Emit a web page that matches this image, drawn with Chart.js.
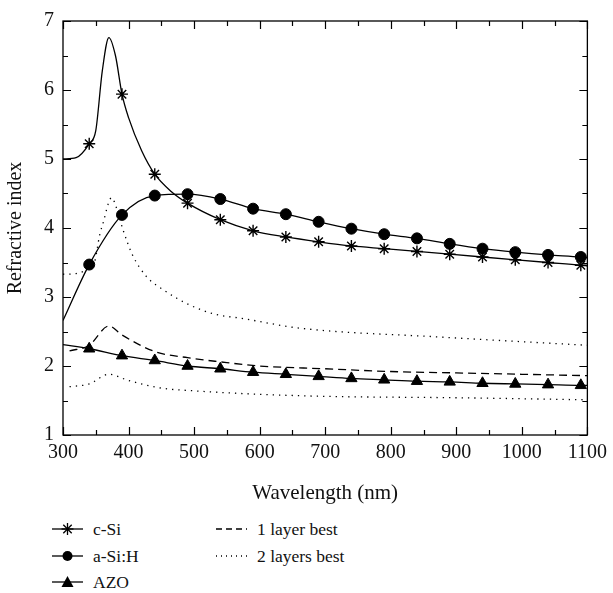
<!DOCTYPE html>
<html>
<head>
<meta charset="utf-8">
<script src="https://cdn.jsdelivr.net/npm/chart.js@4"></script>
<style>
  html, body { margin: 0; padding: 0; background: #fff; }
  #wrap { position: relative; width: 613px; height: 593px; }
  #c { position: absolute; left: 0; top: 0; }
  .leg { position: absolute; font-family: "Liberation Serif", "Times New Roman", serif; font-size: 17.5px; color: #111; display: flex; align-items: center; white-space: nowrap; }
  .leg svg { margin-right: 10px; }
</style>
</head>
<body>
<div id="wrap">
  <canvas id="c" width="613" height="510"></canvas>
  <div id="legend"></div>
</div>
<script>
// ---- Data ----
const xTicks = [300, 400, 500, 600, 700, 800, 900, 1000, 1100];
const yTicks = [1, 2, 3, 4, 5, 6, 7];
const markerWavelengths = [340, 390, 440, 490, 540, 590, 640, 690, 740, 790, 840, 890, 940, 990, 1040, 1090];

const cSiX = [300, 320, 340, 350, 360, 370, 380, 390, 400, 420, 440, 465, 490, 540, 590, 640, 690, 740, 790, 840, 890, 940, 990, 1040, 1090, 1100];
const cSiY = [5.0, 5.02, 5.22, 5.41, 6.28, 6.76, 6.5, 5.94, 5.6, 5.12, 4.78, 4.53, 4.36, 4.12, 3.96, 3.87, 3.8, 3.74, 3.7, 3.66, 3.62, 3.58, 3.54, 3.5, 3.46, 3.45];

const aSiX = [300, 340, 390, 440, 490, 540, 590, 640, 690, 740, 790, 840, 890, 940, 990, 1040, 1090, 1100];
const aSiY = [2.66, 3.47, 4.19, 4.47, 4.49, 4.42, 4.28, 4.2, 4.09, 3.99, 3.91, 3.85, 3.77, 3.7, 3.65, 3.61, 3.58, 3.57];

const azoX = [300, 340, 390, 440, 490, 540, 590, 640, 690, 740, 790, 840, 890, 940, 990, 1040, 1090, 1100];
const azoY = [2.31, 2.25, 2.15, 2.08, 2.0, 1.96, 1.91, 1.88, 1.85, 1.82, 1.8, 1.78, 1.77, 1.75, 1.74, 1.73, 1.72, 1.72];

const oneLayerX = [310, 340, 370, 390, 440, 490, 540, 600, 700, 800, 900, 1000, 1100];
const oneLayerY = [2.22, 2.3, 2.58, 2.45, 2.21, 2.12, 2.06, 2.0, 1.96, 1.92, 1.9, 1.88, 1.86];

const twoLayerUpX = [300, 320, 340, 348, 356, 362, 369, 374, 383, 391, 406, 427, 457, 492, 532, 573, 660, 875, 1100];
const twoLayerUpY = [3.33, 3.34, 3.42, 3.5, 3.9, 4.1, 4.35, 4.44, 4.25, 3.99, 3.61, 3.3, 3.08, 2.89, 2.75, 2.69, 2.55, 2.42, 2.3];

const twoLayerLowX = [310, 340, 370, 400, 450, 500, 600, 700, 900, 1100];
const twoLayerLowY = [1.7, 1.74, 1.88, 1.79, 1.68, 1.64, 1.59, 1.56, 1.54, 1.51];

// ---- helpers ----
const pts = (xs, ys) => xs.map((x, i) => ({ x: x, y: ys[i] }));
const isMarker = (ctx) => {
  const raw = ctx.raw;
  return raw && markerWavelengths.includes(raw.x);
};

function lineDS(label, xs, ys, style, markerRadius, dash) {
  return {
    label: label,
    data: pts(xs, ys),
    borderColor: '#000',
    backgroundColor: '#000',
    borderWidth: 1.3,
    borderDash: dash || [],
    pointStyle: style || false,
    pointRadius: style ? (ctx => isMarker(ctx) ? markerRadius : 0) : 0,
    pointBorderWidth: style === 'star' ? 1.4 : 1,
    pointBorderColor: '#000',
    pointBackgroundColor: '#000',
    pointHoverRadius: 0,
    cubicInterpolationMode: 'monotone',
    fill: false
  };
}

const FONT = '"Liberation Serif", "Times New Roman", serif';

const frameTicks = {
  id: 'frameTicks',
  afterDraw(chart) {
    const { ctx, chartArea: a, scales } = chart;
    const xs = scales.x, ys = scales.y;
    ctx.save();
    ctx.strokeStyle = '#000';
    ctx.lineWidth = 1.3;
    ctx.strokeRect(a.left, a.top, a.right - a.left, a.bottom - a.top);
    ctx.lineWidth = 1.2;
    ctx.beginPath();
    for (let v = xs.min; v <= xs.max + 1e-6; v += 50) {
      const px = Math.round(xs.getPixelForValue(v)) + 0.5;
      const len = (v % 100 === 0) ? 8 : 5;
      ctx.moveTo(px, a.bottom); ctx.lineTo(px, a.bottom - len);
      ctx.moveTo(px, a.top); ctx.lineTo(px, a.top + len);
    }
    for (let v = ys.min; v <= ys.max + 1e-6; v += 0.5) {
      const py = Math.round(ys.getPixelForValue(v)) + 0.5;
      const len = (Math.abs(v - Math.round(v)) < 1e-6) ? 8 : 5;
      ctx.moveTo(a.left, py); ctx.lineTo(a.left + len, py);
      ctx.moveTo(a.right, py); ctx.lineTo(a.right - len, py);
    }
    ctx.stroke();
    ctx.restore();
  }
};

const chart = new Chart(document.getElementById('c'), {
  type: 'line',
  data: {
    datasets: [
      lineDS('c-Si', cSiX, cSiY, 'star', 6),
      lineDS('a-Si:H', aSiX, aSiY, 'circle', 5.5),
      lineDS('AZO', azoX, azoY, 'triangle', 6.5),
      lineDS('1 layer best', oneLayerX, oneLayerY, null, 0, [8, 5]),
      lineDS('2 layers best', twoLayerUpX, twoLayerUpY, null, 0, [1.3, 5]),
      lineDS('2 layers best (low)', twoLayerLowX, twoLayerLowY, null, 0, [1.3, 5])
    ]
  },
  options: {
    responsive: false,
    animation: false,
    layout: { padding: { top: 17, right: 21, left: 0, bottom: 0 } },
    plugins: { legend: { display: false }, tooltip: { enabled: false } },
    scales: {
      x: {
        type: 'linear',
        min: 300, max: 1100,
        afterBuildTicks: s => { s.ticks = xTicks.map(v => ({ value: v })); },
        grid: { display: false, drawTicks: false },
        border: { display: false },
        ticks: { color: '#111', font: { family: FONT, size: 20 }, padding: 6, maxRotation: 0, callback: v => String(v) },
        title: { display: true, text: 'Wavelength (nm)', color: '#111', font: { family: FONT, size: 21 }, padding: { top: 5 } },
        afterFit: s => { s.height = 75; }
      },
      y: {
        type: 'linear',
        min: 1, max: 7,
        afterBuildTicks: s => { s.ticks = yTicks.map(v => ({ value: v })); },
        grid: { display: false, drawTicks: false },
        border: { display: false },
        ticks: { color: '#111', font: { family: FONT, size: 20 }, padding: 9, callback: v => String(v) },
        title: { display: true, text: 'Refractive index', color: '#111', font: { family: FONT, size: 20 }, padding: { bottom: 2 } },
        afterFit: s => { s.width = 63; }
      }
    }
  },
  plugins: [frameTicks]
});

// ---- HTML legend ----
const legendItems = [
  { label: 'c-Si', marker: 'star', dash: null, left: 52, top: 529 },
  { label: 'a-Si:H', marker: 'circle', dash: null, left: 52, top: 556 },
  { label: 'AZO', marker: 'triangle', dash: null, left: 52, top: 582 },
  { label: '1 layer best', marker: null, dash: '6 4', left: 216, top: 529 },
  { label: '2 layers best', marker: null, dash: '1 4', left: 216, top: 556 }
];
const legend = document.getElementById('legend');
legendItems.forEach(it => {
  const d = document.createElement('div');
  d.className = 'leg';
  d.style.left = it.left + 'px';
  d.style.top = (it.top - 11) + 'px';
  d.style.height = '22px';
  let m = '';
  if (it.marker === 'star') {
    m = '<g stroke="#000" stroke-width="1.3"><line x1="15.5" y1="5" x2="15.5" y2="17"/><line x1="9.5" y1="11" x2="21.5" y2="11"/><line x1="11.3" y1="6.8" x2="19.7" y2="15.2"/><line x1="11.3" y1="15.2" x2="19.7" y2="6.8"/></g>';
  } else if (it.marker === 'circle') {
    m = '<circle cx="15.5" cy="11" r="5" fill="#000"/>';
  } else if (it.marker === 'triangle') {
    m = '<polygon points="15.5,5 21.5,16 9.5,16" fill="#000"/>';
  }
  const lineAttrs = it.dash ? ' stroke-dasharray="' + it.dash + '"' : '';
  d.innerHTML = '<svg width="31" height="22"><line x1="0" y1="11" x2="31" y2="11" stroke="#000" stroke-width="1.3"' + lineAttrs + '/>' + m + '</svg><span>' + it.label + '</span>';
  legend.appendChild(d);
});
</script>
</body>
</html>
